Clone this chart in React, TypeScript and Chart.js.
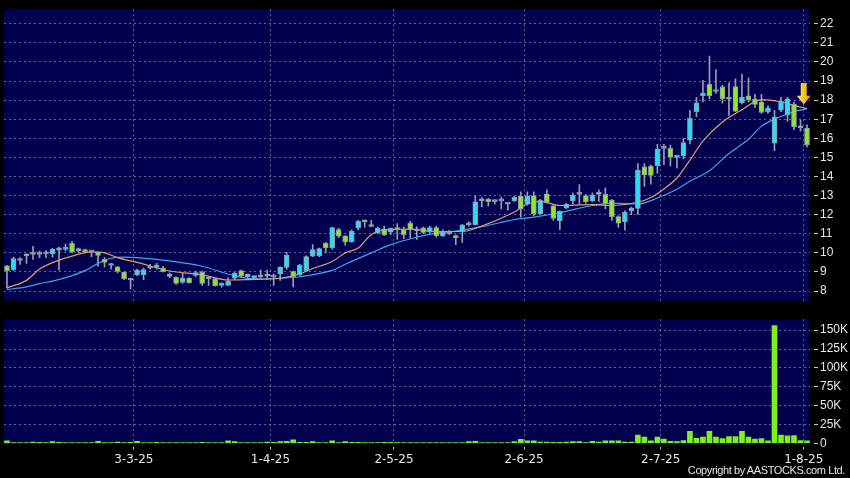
import React, { useEffect, useRef } from "react";
import { Chart, registerables } from "chart.js";

Chart.register(...registerables);

// Trading-day index 0 = 3 Feb 2025 ... 123 = 1 Aug 2025
const opens = [
  9.32, 9.12, 9.6, 9.92, 9.92, 9.92, 9.95, 9.95, 10.26, 10.18,
  10.5, 10.1, 10.17, 10.05, 10.04, 9.66, 9.34, 9.27, 9.0, 8.62,
  8.85, 8.85, 9.2, 9.24, 9.2, 8.85, 8.73, 8.45, 8.68, 8.82,
  8.98, 8.65, 8.65, 8.3, 8.3, 8.68, 9.07, 8.87, 8.7, 8.75,
  8.8, 8.73, 8.9, 9.24, 9.02, 8.85, 9.07, 9.83, 9.85, 10.5,
  10.26, 11.22, 10.89, 10.58, 11.3, 11.7, 11.38, 11.05, 11.26, 11.08,
  11.25, 11.22, 11.56, 11.15, 11.31, 11.1, 11.33, 10.9, 11.1, 10.88,
  11.1, 11.47, 11.48, 12.8, 12.8, 12.68, 12.72, 12.55, 12.72, 12.97,
  12.55, 13.0, 12.05, 13.09, 12.46, 11.67, 12.35, 12.72, 13.06, 13.0,
  12.72, 13.12, 13.06, 12.75, 11.9, 11.62, 12.2, 12.33, 14.5, 14.55,
  14.55, 15.47, 15.47, 15.0, 15.09, 15.9, 17.39, 18.23, 18.83, 18.45,
  18.69, 18.08, 18.71, 17.86, 18.23, 18.06, 17.9, 17.4, 15.74, 17.47,
  17.22, 17.78, 16.6, 16.54,
];
const highs = [
  9.35, 9.78, 9.75, 9.95, 10.34, 10.09, 10.12, 10.25, 10.3, 10.46,
  10.6, 10.25, 10.2, 10.08, 10.05, 9.75, 9.45, 9.3, 9.0, 8.65,
  9.15, 9.2, 9.4, 9.45, 9.3, 8.95, 8.75, 8.95, 8.7, 9.05,
  9.05, 8.73, 8.66, 8.45, 8.7, 9.0, 9.1, 8.9, 8.8, 9.1,
  9.1, 8.9, 9.27, 10.03, 9.05, 9.4, 9.85, 10.43, 10.25, 10.55,
  11.35, 11.3, 10.9, 11.2, 11.7, 11.72, 11.7, 11.35, 11.4, 11.3,
  11.53, 11.36, 11.65, 11.36, 11.35, 11.4, 11.4, 11.2, 11.18, 10.95,
  11.5, 11.62, 12.97, 12.89, 12.85, 12.78, 12.92, 12.62, 12.95, 13.19,
  13.2, 13.19, 12.8, 13.3, 12.5, 12.2, 12.6, 13.14, 13.57, 13.05,
  13.14, 13.3, 13.4, 12.8, 11.95, 12.2, 12.4, 14.67, 14.67, 14.6,
  15.69, 15.69, 15.64, 15.1, 16.0, 17.47, 18.15, 19.03, 20.3, 19.6,
  18.78, 18.9, 19.12, 19.35, 19.17, 18.3, 18.3, 17.7, 17.47, 18.15,
  18.15, 17.9, 16.96, 16.7,
];
const lows = [
  8.15, 9.07, 9.4, 9.45, 9.66, 9.75, 9.75, 9.78, 9.1, 10.1,
  10.0, 10.0, 10.0, 9.8, 9.3, 9.25, 9.15, 8.95, 8.6, 8.1,
  8.8, 8.6, 9.15, 9.15, 9.0, 8.7, 8.35, 8.4, 8.4, 8.75,
  8.3, 8.3, 8.25, 8.2, 8.28, 8.6, 8.7, 8.7, 8.65, 8.7,
  8.6, 8.3, 8.56, 9.15, 8.22, 8.8, 9.05, 9.8, 9.8, 10.0,
  10.2, 10.8, 10.4, 10.55, 11.2, 11.35, 11.36, 11.0, 10.9, 10.95,
  10.7, 10.75, 10.77, 10.7, 11.0, 11.05, 10.82, 10.85, 10.95, 10.43,
  10.55, 11.4, 11.45, 12.4, 12.45, 12.55, 12.3, 12.24, 12.7, 11.87,
  12.5, 11.95, 12.0, 12.6, 11.7, 11.22, 12.3, 12.55, 12.55, 12.6,
  12.68, 12.7, 12.3, 11.7, 11.33, 11.19, 12.0, 12.0, 13.48, 13.6,
  14.16, 14.62, 14.55, 14.45, 14.92, 15.7, 17.13, 17.9, 18.06, 18.35,
  17.84, 17.2, 17.4, 17.8, 17.9, 17.6, 17.3, 17.3, 15.35, 17.4,
  16.9, 16.45, 16.37, 15.55,
];
const closes = [
  9.07, 9.7, 9.62, 9.85, 9.92, 9.92, 9.95, 10.2, 10.14, 10.28,
  10.05, 10.22, 10.05, 10.05, 9.87, 9.5, 9.34, 9.03, 8.65, 8.58,
  9.1, 9.12, 9.28, 9.36, 9.02, 8.77, 8.4, 8.68, 8.44, 8.97,
  8.4, 8.63, 8.28, 8.31, 8.52, 8.93, 8.78, 8.75, 8.76, 8.85,
  8.78, 8.73, 9.25, 9.87, 8.75, 9.36, 9.8, 10.17, 10.22, 10.26,
  11.33, 10.87, 10.58, 11.14, 11.65, 11.62, 11.45, 11.3, 10.95, 11.3,
  11.22, 10.95, 11.2, 11.24, 11.07, 11.33, 10.9, 11.1, 11.0, 10.8,
  11.45, 11.55, 12.67, 12.72, 12.68, 12.68, 12.72, 12.55, 12.92, 12.3,
  12.97, 12.05, 12.75, 12.63, 11.8, 12.17, 12.55, 13.02, 13.06, 12.68,
  13.02, 13.06, 12.58, 11.9, 11.56, 12.12, 12.34, 14.33, 14.08, 14.05,
  15.43, 15.47, 15.0, 15.08, 15.77, 17.05, 17.86, 18.37, 18.23, 18.45,
  18.06, 18.05, 17.42, 18.15, 18.02, 17.78, 17.35, 17.6, 17.13, 17.93,
  18.06, 16.6, 16.55, 15.65,
];
const volumesK = [
  3.5, 1.3, 1.3, 1.0, 2.0, 1.7, 1.0, 2.6, 1.7, 1.3,
  1.3, 0.5, 0.5, 0.8, 3.0, 1.3, 1.3, 2.0, 1.3, 1.7,
  3.0, 1.0, 0.5, 1.7, 0.5, 0.5, 0.4, 0.5, 0.4, 0.5,
  1.7, 1.3, 1.3, 1.3, 3.5, 2.6, 1.0, 0.5, 0.5, 1.0,
  2.0, 1.7, 2.6, 3.0, 5.0, 1.7, 1.7, 2.6, 1.3, 1.0,
  3.5, 1.0, 2.6, 1.7, 1.7, 1.3, 1.0, 0.5, 1.7, 1.7,
  1.0, 0.5, 0.5, 1.0, 1.3, 0.5, 0.8, 0.5, 0.8, 1.0,
  1.3, 2.5, 3.0, 1.3, 0.8, 0.5, 0.5, 1.0, 2.5, 5.5,
  3.5, 3.5, 2.0, 2.0, 1.5, 1.5, 2.0, 2.5, 2.5, 1.0,
  3.0, 2.0, 3.5, 3.5, 3.5, 2.0, 2.0, 11.0, 8.4, 3.5,
  8.4, 5.7, 3.0, 2.6, 4.0, 16.0, 7.0, 8.4, 16.0, 8.4,
  6.6, 9.2, 9.2, 16.0, 8.4, 5.7, 6.6, 3.5, 156.0, 11.0,
  10.0, 10.5, 4.0, 3.5,
];

// Moving averages (orange 10-day, blue 20-day)
const ma10Days = [0, 3, 5, 7, 10, 13, 15, 17, 20, 25, 30, 34, 37, 42, 45, 47, 50, 52, 54, 56, 58, 62, 66, 70, 73, 78, 80, 82, 85, 90, 93, 97, 99, 101, 103, 105, 107, 110, 113, 116, 119, 121, 123];
const ma10 = [8.17, 8.56, 9.15, 9.49, 9.83, 10.05, 10.0, 9.75, 9.5, 9.05, 8.85, 8.58, 8.6, 8.67, 8.9, 9.18, 9.55, 10.0, 10.26, 10.95, 11.2, 11.24, 11.12, 11.12, 11.4, 12.14, 12.56, 12.7, 12.48, 12.53, 12.48, 12.65, 12.9, 13.35, 13.92, 14.86, 15.85, 16.85, 17.5, 18.02, 17.9, 17.72, 17.55];
const ma20Days = [0, 3, 5, 7, 10, 12, 14, 16, 18, 20, 25, 30, 35, 38, 42, 45, 50, 52, 56, 59, 63, 66, 69, 73, 78, 81, 85, 90, 93, 97, 100, 103, 105, 108, 111, 114, 116, 119, 121, 123];
const ma20 = [8.08, 8.22, 8.39, 8.52, 8.81, 9.07, 9.45, 9.72, 9.78, 9.75, 9.58, 9.3, 8.8, 8.64, 8.67, 8.75, 9.08, 9.4, 10.0, 10.43, 10.82, 11.03, 11.14, 11.37, 11.74, 11.87, 12.1, 12.48, 12.6, 12.56, 12.87, 13.33, 13.75, 14.3, 15.2, 15.95, 16.63, 17.14, 17.4, 17.55];

const dateTickDays = [19.5, 40.5, 59.5, 79.5, 100.5, 122.5];
const dateTickLabels = ["3-3-25", "1-4-25", "2-5-25", "2-6-25", "2-7-25", "1-8-25"];
const priceTicks = [8, 9, 10, 11, 12, 13, 14, 15, 16, 17, 18, 19, 20, 21, 22];
const volumeTicksK = [0, 25, 50, 75, 100, 125, 150];

const arrowMark = { day: 122.5, top: 18.9, head: 18.23, tip: 17.77 };

// styles
const NAVY = "#00004e";
const GRID = "rgba(135,135,180,0.75)";
const UP = "#2bdcf2";
const DOWN = "#8de82a";
const FLAT = "#8d90a6";
const EDGE = "#9098a8";
const WICK = "#9a9cb0";
const VOL = "#7ef01e";
const TXT = "#e6e6e6";

const panelBg = {
  id: "panelBg",
  beforeDraw(chart: any) {
    const { ctx, chartArea: a } = chart;
    ctx.save();
    ctx.fillStyle = NAVY;
    ctx.fillRect(a.left, a.top, a.right - a.left, a.bottom - a.top);
    ctx.restore();
  },
};

const arrowPlugin = {
  id: "arrowMark",
  afterDatasetsDraw(chart: any) {
    const { ctx } = chart;
    const x = chart.scales.x.getPixelForValue(arrowMark.day);
    const yTop = chart.scales.y.getPixelForValue(arrowMark.top);
    const yHead = chart.scales.y.getPixelForValue(arrowMark.head);
    const yTip = chart.scales.y.getPixelForValue(arrowMark.tip);
    ctx.save();
    const g = ctx.createLinearGradient(x - 7, 0, x + 7, 0);
    g.addColorStop(0, "#ffe680");
    g.addColorStop(0.5, "#f7c51c");
    g.addColorStop(1, "#d99a00");
    ctx.fillStyle = g;
    ctx.beginPath();
    ctx.moveTo(x - 3, yTop);
    ctx.lineTo(x + 3, yTop);
    ctx.lineTo(x + 3, yHead);
    ctx.lineTo(x + 7, yHead);
    ctx.lineTo(x, yTip);
    ctx.lineTo(x - 7, yHead);
    ctx.lineTo(x - 3, yHead);
    ctx.closePath();
    ctx.fill();
    ctx.restore();
  },
};

function xAxis(showLabels: boolean) {
  return {
    type: "linear",
    min: -0.46,
    max: 123.46,
    offset: false,
    afterBuildTicks: (s: any) => {
      s.ticks = dateTickDays.map((v) => ({ value: v }));
    },
    afterFit: (s: any) => {
      s.height = showLabels ? 24 : 0;
    },
    grid: {
      color: GRID,
      lineWidth: 1,
      offset: false,
      drawTicks: showLabels,
      tickLength: 6,
      tickColor: "#c8c8c8",
      tickBorderDash: [3, 3],
      tickBorderDashOffset: 3,
    },
    border: { display: false, dash: [2, 3] },
    ticks: {
      display: showLabels,
      autoSkip: false,
      maxRotation: 0,
      padding: 3,
      color: TXT,
      font: { family: "DejaVu Sans", size: 12 },
      callback: (v: any) => {
        const k = dateTickDays.indexOf(Number(v));
        return k >= 0 ? dateTickLabels[k] : "";
      },
    },
  };
}

export default function App() {
  const priceRef = useRef<HTMLCanvasElement>(null);
  const volRef = useRef<HTMLCanvasElement>(null);

  useEffect(() => {
    document.body.style.margin = "0";
    document.body.style.background = "#000";
    const days = opens.map((_, i) => i);
    const colorOf = (i: number) =>
      closes[i] > opens[i] ? UP : closes[i] < opens[i] ? DOWN : FLAT;

    const price = new Chart(priceRef.current as HTMLCanvasElement, {
      type: "bar",
      data: {
        datasets: [
          {
            type: "bar",
            order: 0,
            data: days.map((i) => ({ x: i, y: [opens[i], closes[i]] })) as any,
            backgroundColor: days.map(colorOf),
            borderColor: EDGE,
            borderWidth: 1,
            borderSkipped: false,
            barThickness: 5,
            minBarLength: 2,
            grouped: false,
          } as any,
          {
            type: "line",
            order: 1,
            data: ma10Days.map((d, k) => ({ x: d, y: ma10[k] })),
            borderColor: "#e59a6a",
            borderWidth: 1.2,
            pointRadius: 0,
            cubicInterpolationMode: "monotone",
          } as any,
          {
            type: "line",
            order: 1,
            data: ma20Days.map((d, k) => ({ x: d, y: ma20[k] })),
            borderColor: "#3aa6ea",
            borderWidth: 1.2,
            pointRadius: 0,
            cubicInterpolationMode: "monotone",
          } as any,
          {
            type: "bar",
            order: 2,
            data: days.map((i) => ({ x: i, y: [lows[i], highs[i]] })) as any,
            backgroundColor: WICK,
            borderWidth: 0,
            barThickness: 1,
            grouped: false,
          } as any,
        ],
      },
      options: {
        animation: false,
        responsive: false,
        devicePixelRatio: 1,
        layout: { padding: { left: 4, top: 6, right: 0, bottom: 4 } },
        plugins: { legend: { display: false }, tooltip: { enabled: false } },
        scales: {
          x: xAxis(false) as any,
          y: {
            type: "linear",
            position: "right",
            min: 7.49,
            max: 22.76,
            afterBuildTicks: (s: any) => {
              s.ticks = priceTicks.map((v) => ({ value: v }));
            },
            afterFit: (s: any) => {
              s.width = 40;
            },
            grid: {
              color: GRID,
              tickLength: 8,
              tickColor: "#c8c8c8",
              tickBorderDash: [4, 4],
              tickBorderDashOffset: 4,
            },
            border: { display: false, dash: [2, 3] },
            ticks: {
              padding: 2,
              color: TXT,
              font: { family: "Liberation Sans", size: 12 },
            },
          } as any,
        },
      },
      plugins: [panelBg, arrowPlugin],
    });

    const vol = new Chart(volRef.current as HTMLCanvasElement, {
      type: "bar",
      data: {
        datasets: [
          {
            data: days.map((i) => ({ x: i, y: volumesK[i] })) as any,
            backgroundColor: VOL,
            borderWidth: 0,
            barThickness: 5,
            minBarLength: 1,
            grouped: false,
          } as any,
        ],
      },
      options: {
        animation: false,
        responsive: false,
        devicePixelRatio: 1,
        layout: { padding: { left: 4, top: 9, right: 0, bottom: 10.5 } },
        plugins: { legend: { display: false }, tooltip: { enabled: false } },
        scales: {
          x: xAxis(true) as any,
          y: {
            type: "linear",
            position: "right",
            min: 0,
            max: 164.5,
            afterBuildTicks: (s: any) => {
              s.ticks = volumeTicksK.map((v) => ({ value: v }));
            },
            afterFit: (s: any) => {
              s.width = 40;
            },
            grid: {
              color: (c: any) => (c.tick && c.tick.value === 0 ? "rgba(0,0,0,0)" : GRID),
              tickLength: 8,
              tickColor: "#c8c8c8",
              tickBorderDash: [4, 4],
              tickBorderDashOffset: 4,
            },
            border: { display: false, dash: [2, 3] },
            ticks: {
              padding: 2,
              color: TXT,
              font: { family: "Liberation Sans", size: 12 },
              callback: (v: any) => (Number(v) === 0 ? "0" : `${v}K`),
            },
          } as any,
        },
      },
      plugins: [panelBg],
    });

    return () => {
      price.destroy();
      vol.destroy();
    };
  }, []);

  return (
    <div
      style={{
        position: "relative",
        width: 850,
        height: 478,
        background: "#000",
        overflow: "hidden",
      }}
    >
      <canvas
        ref={priceRef}
        width={850}
        height={310}
        style={{ position: "absolute", left: 0, top: 0, width: 850, height: 310 }}
      />
      <canvas
        ref={volRef}
        width={850}
        height={168}
        style={{ position: "absolute", left: 0, top: 310, width: 850, height: 168 }}
      />
      <div
        style={{
          position: "absolute",
          right: 5,
          top: 464,
          fontFamily: "'Liberation Sans', Arial, sans-serif",
          fontSize: 11,
          lineHeight: "13px",
          letterSpacing: "-0.4px",
          color: TXT,
          whiteSpace: "nowrap",
        }}
      >
        Copyright by AASTOCKS.com Ltd.
      </div>
    </div>
  );
}
